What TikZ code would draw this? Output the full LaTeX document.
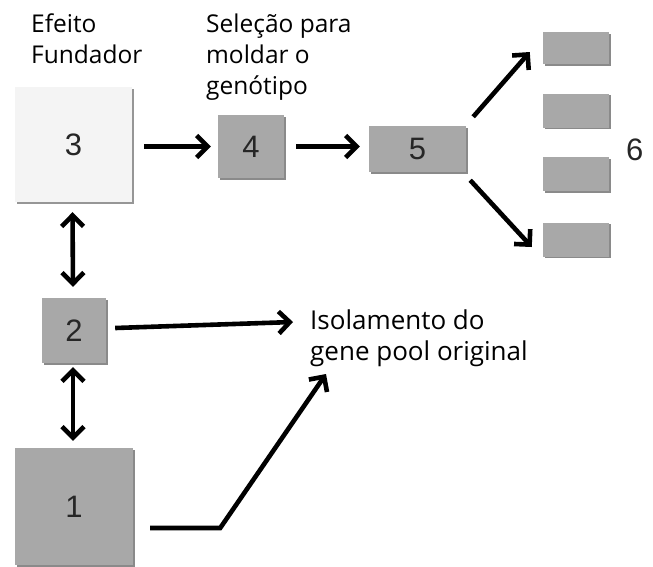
\documentclass[tikz,border=0pt]{standalone}
\usepackage{fontspec}
\setmainfont{Open Sans}
\newfontfamily\digitfont{Liberation Sans}
\usetikzlibrary{arrows.meta,shadows}
\definecolor{boxgray}{HTML}{A8A8A8}
\definecolor{shadowgray}{HTML}{8A8A8A}
\definecolor{lightbox}{HTML}{F4F4F4}
\definecolor{digitcol}{HTML}{262626}
\begin{document}
\begin{tikzpicture}[x=1pt,y=-1pt,
  gbox/.style={rectangle,fill=boxgray,draw=none,inner sep=0pt,
    drop shadow={shadow xshift=1.5pt,shadow yshift=-1.5pt,fill=shadowgray,opacity=1},
    font=\digitfont\fontsize{31}{32}\selectfont,text=digitcol},
  lbox/.style={rectangle,fill=lightbox,draw=none,inner sep=0pt,
    drop shadow={shadow xshift=2pt,shadow yshift=-2pt,fill=shadowgray!90,opacity=1},
    font=\digitfont\fontsize{31}{32}\selectfont,text=digitcol},
  lbl/.style={font=\fontsize{24.5}{31}\selectfont,align=left,inner sep=0pt,text=black},
  isolbl/.style={font=\fontsize{26}{31}\selectfont,align=left,inner sep=0pt,text=black},
  barb/.tip={Straight Barb[length=11pt,width=22pt]},
  arr/.style={line width=4.6pt,-barb},
  darr/.style={line width=4.6pt,barb-barb}]
\useasboundingbox (0,0) rectangle (653,566);
% boxes
\node[lbox,minimum width=117pt,minimum height=115pt] (n3) at (73.5,144.5) {3};
\node[gbox,minimum width=66pt,minimum height=63pt] (n4) at (251,146.5) {4};
\node[gbox,minimum width=97pt,minimum height=46pt] (n5) at (417.5,149) {5};
\node[gbox,minimum width=66pt,minimum height=32pt] (n6a) at (576,48) {};
\node[gbox,minimum width=66pt,minimum height=34pt] (n6b) at (576,110.5) {};
\node[gbox,minimum width=66pt,minimum height=34pt] (n6c) at (576,174) {};
\node[gbox,minimum width=66pt,minimum height=34pt] (n6d) at (576,239.5) {};
\node[font=\digitfont\fontsize{31}{32}\selectfont,text=digitcol,anchor=west,inner sep=0pt] (n6) at (626,150) {6};
\node[gbox,minimum width=64pt,minimum height=65pt] (n2) at (74,330.5) {2};
\node[gbox,minimum width=118pt,minimum height=117pt] (n1) at (74,506.5) {1};
% labels
\node[lbl,anchor=north west] (ef) at (31,14) {Efeito\\Fundador};
\node[lbl,anchor=north west] (sel) at (206,14) {Seleção para\\moldar o\\genótipo};
\node[isolbl,anchor=north west] (iso) at (310,310) {Isolamento do\\gene pool original};
% connectors
\draw[arr] ([xshift=12pt]n3.east |- n4.west) -- ([xshift=-7pt]n4.west);
\draw[arr] ([xshift=12pt]n4.east) -- ([xshift=-9pt]n5.west |- n4.east);
\draw[arr] ([shift={(7,-9)}]n5.north east) -- ([shift={(-13,4)}]n6a.west);
\draw[arr] ([shift={(4,8)}]n5.south east) -- ([shift={(-11,7.5)}]n6d.west);
\draw[darr] ([shift={(-1,10)}]n3.south) -- ([shift={(-1,-11)}]n2.north);
\draw[darr] ([shift={(-1,4)}]n2.south) -- ([shift={(-1,-7)}]n1.north);
\coordinate (a2s) at ([shift={(9,-2.5)}]n2.east);
\coordinate (a2e) at ([shift={(-17,12)}]iso.north west);
\draw[arr] (a2s) -- (a2e);
\coordinate (a1s) at ([shift={(17,21.5)}]n1.east);
\coordinate (a1b) at ([shift={(87,21.5)}]n1.east);
\coordinate (a1e) at ([shift={(16,64)}]iso.north west);
\draw[arr,line join=miter] (a1s) -- (a1b) -- (a1e);
\end{tikzpicture}
\end{document}
